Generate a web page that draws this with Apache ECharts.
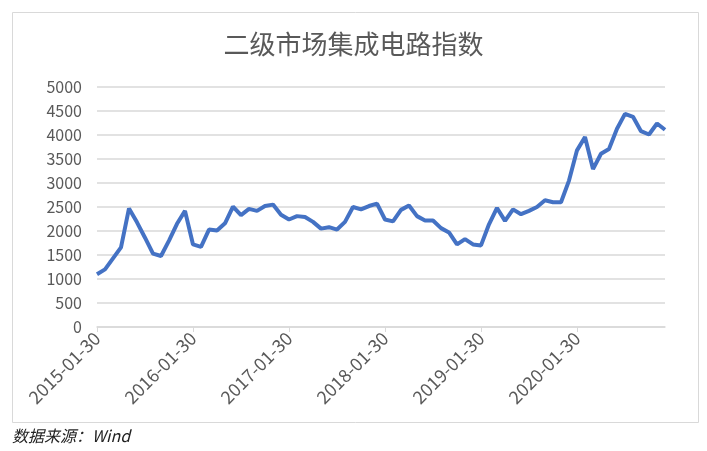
<!DOCTYPE html>
<html>
<head>
<meta charset="utf-8">
<script src="https://cdn.jsdelivr.net/npm/echarts@6/dist/echarts.min.js"></script>
<style>html,body{margin:0;padding:0;background:#fff;}#c{width:707px;height:451px;}</style>
</head>
<body>
<div id="c"></div>
<script>
const titleText = '二级市场集成电路指数';
const sourceText = '数据来源：Wind';
const years = [2015, 2016, 2017, 2018, 2019, 2020];
const v2015 = [1100, 1200, 1430, 1660, 2470, 2180, 1860, 1530, 1480, 1800, 2150, 2420];
const v2016 = [1720, 1670, 2030, 2010, 2160, 2510, 2330, 2460, 2420, 2520, 2550, 2340];
const v2017 = [2240, 2310, 2290, 2190, 2050, 2080, 2030, 2190, 2500, 2450, 2520, 2570];
const v2018 = [2240, 2200, 2440, 2530, 2310, 2220, 2220, 2060, 1970, 1720, 1830, 1720];
const v2019 = [1700, 2140, 2480, 2210, 2450, 2350, 2420, 2500, 2640, 2600, 2600, 3050];
const v2020 = [3680, 3960, 3290, 3610, 3710, 4130, 4440, 4380, 4080, 4010, 4240, 4110];
const values = [].concat(v2015, v2016, v2017, v2018, v2019, v2020);
const categories = [];
years.forEach(y => {
  for (let m = 1; m <= 12; m++) {
    const mm = (m < 10 ? '0' : '') + m;
    categories.push(y + '-' + mm + '-' + (m === 2 ? '28' : '30'));
  }
});
const chart = echarts.init(document.getElementById('c'));
const font = '"Noto Sans CJK SC", "Noto Sans", sans-serif';
chart.setOption({
  animation: false,
  backgroundColor: '#fff',
  title: {
    text: titleText, left: 'center', top: 26,
    textStyle: { fontFamily: font, fontSize: 26, fontWeight: 'normal', color: '#595959' }
  },
  graphic: [
    { type: 'rect', shape: { x: 12.5, y: 12.5, width: 686, height: 410 },
      style: { fill: 'none', stroke: '#d9d9d9', lineWidth: 1 }, silent: true },
    { type: 'text', left: 12, top: 428,
      style: { text: sourceText, fontFamily: font, fontSize: 16, fontStyle: 'italic', fill: '#222' } }
  ],
  grid: { left: 97, right: 42, top: 87, bottom: 124, containLabel: false },
  xAxis: {
    type: 'category', data: categories, boundaryGap: false,
    axisLine: { lineStyle: { color: '#d9d9d9', width: 1.5 } },
    axisTick: { show: true, interval: 11, length: 5, lineStyle: { color: '#d9d9d9' } },
    axisLabel: { interval: 11, rotate: 45, margin: 8, fontFamily: font, fontSize: 18, color: '#595959' },
    splitLine: { show: false }
  },
  yAxis: {
    type: 'value', min: 0, max: 5000, interval: 500,
    axisLine: { show: false }, axisTick: { show: false },
    axisLabel: { margin: 15, fontFamily: font, fontSize: 16, color: '#595959', formatter: v => String(v) },
    splitLine: { lineStyle: { color: '#d9d9d9', width: 1.5 } }
  },
  series: [{
    type: 'line', data: values, showSymbol: false, symbol: 'none',
    lineStyle: { color: '#4472C4', width: 4 }
  }]
});
</script>
</body>
</html>
